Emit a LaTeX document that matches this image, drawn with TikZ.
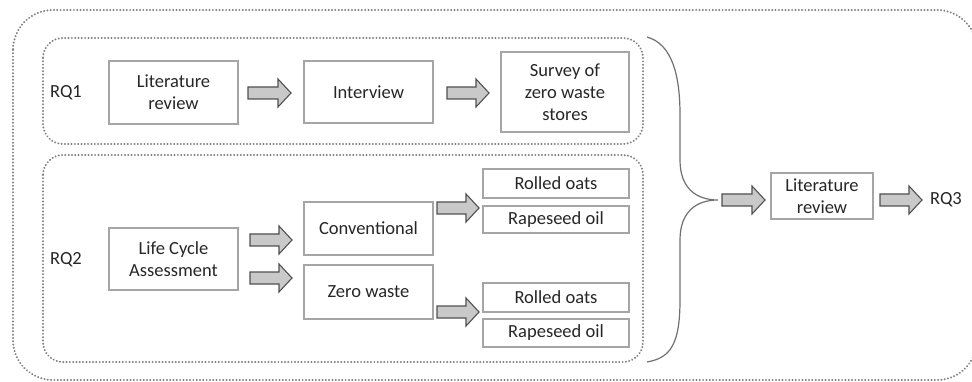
\documentclass[tikz,border=0pt]{standalone}
\usepackage{fontspec}
\setmainfont{Carlito}
\usetikzlibrary{calc}
\definecolor{txt}{HTML}{262626}
\definecolor{boxc}{HTML}{A5A5A5}
\definecolor{dotc}{HTML}{808080}
\definecolor{arrowc}{HTML}{505050}
\definecolor{arrowf}{HTML}{C9C9C9}
\definecolor{bracec}{HTML}{707070}
\begin{document}
\begin{tikzpicture}[x=1pt,y=-1pt,
  every node/.style={text=txt,font=\fontsize{18.5}{22}\selectfont},
  stepbox/.style={draw=boxc,line width=1.3pt,rectangle,align=center,inner sep=0pt},
  grp/.style={draw=dotc,line width=2.2pt,dash pattern=on 0.01pt off 3.3pt,line cap=round},
  blockarrow/.style={draw=arrowc,fill=arrowf,line width=1.1pt,line join=miter,
    to path={let \p1=(\tikztostart), \p2=(\tikztotarget) in
      (\x1,\y1+6pt) -- (\x2-13pt,\y1+6pt) -- (\x2-13pt,\y1+14pt) -- (\x2,\y1)
      -- (\x2-13pt,\y1-14pt) -- (\x2-13pt,\y1-6pt) -- (\x1,\y1-6pt) -- cycle}},
  bracestyle/.style={draw=bracec,line width=1.2pt}]
\useasboundingbox (0,0) rectangle (972,382);
% groups
\draw[grp,rounded corners=40pt] (13,10) rectangle (977,380);
\draw[grp,rounded corners=20pt] (43,38) rectangle (643,144);
\draw[grp,rounded corners=20pt] (43,155) rectangle (643,362);
% labels
\node (rq1) at (66,93) {RQ1};
\node (rq2) at (66,260) {RQ2};
\node (rq3) at (946,200) {RQ3};
% RQ1 row
\node[stepbox,minimum width=129pt,minimum height=63pt] (lr1) at (173.5,92.5) {Literature\\review};
\node[stepbox,minimum width=129pt,minimum height=62pt] (int) at (368.5,92) {Interview};
\node[stepbox,minimum width=128pt,minimum height=80pt] (surv) at (565,92) {Survey of\\zero waste\\stores};
% RQ2
\node[stepbox,minimum width=129pt,minimum height=62pt] (lca) at (173.5,259) {Life Cycle\\Assessment};
\node[stepbox,minimum width=129pt,minimum height=53pt] (conv) at (368.5,228.5) {Conventional};
\node[stepbox,minimum width=129pt,minimum height=54pt] (zw) at (368.5,292) {Zero waste};
\node[stepbox,minimum width=146pt,minimum height=29pt] (ro1) at (556,183.5) {Rolled oats};
\node[stepbox,minimum width=146pt,minimum height=27pt] (rs1) at (556,219.5) {Rapeseed oil};
\node[stepbox,minimum width=146pt,minimum height=29pt] (ro2) at (556,297.5) {Rolled oats};
\node[stepbox,minimum width=146pt,minimum height=28pt] (rs2) at (556,333) {Rapeseed oil};
% RQ3
\node[stepbox,minimum width=102pt,minimum height=46pt] (lr3) at (822,196) {Literature\\review};
% brace
\coordinate (bt) at (647,37);
\coordinate (bb) at (647,362);
\coordinate (btip) at (718,200);
\draw[bracestyle] (bt) .. controls (672,44) and (680,75) .. (680,115) -- (680,160)
  .. controls (680,188) and (696,200) .. (btip)
  .. controls (696,200) and (680,212) .. (680,240) -- (680,300)
  .. controls (680,345) and (670,358) .. (bb);
% block arrows
\coordinate (a1s) at (248,93);  \coordinate (a1e) at (291,93);
\coordinate (a2s) at (447,93);  \coordinate (a2e) at (489,93);
\coordinate (a3s) at (250,240); \coordinate (a3e) at (292,240);
\coordinate (a4s) at (250,278); \coordinate (a4e) at (292,278);
\coordinate (a5s) at (437,208); \coordinate (a5e) at (479,208);
\coordinate (a6s) at (437,312); \coordinate (a6e) at (479,312);
\coordinate (a7s) at (722,200); \coordinate (a7e) at (765,200);
\coordinate (a8s) at (880,200); \coordinate (a8e) at (922,200);
\foreach \i in {1,...,8} {\draw[blockarrow] (a\i s) to (a\i e);}
\end{tikzpicture}
\end{document}
